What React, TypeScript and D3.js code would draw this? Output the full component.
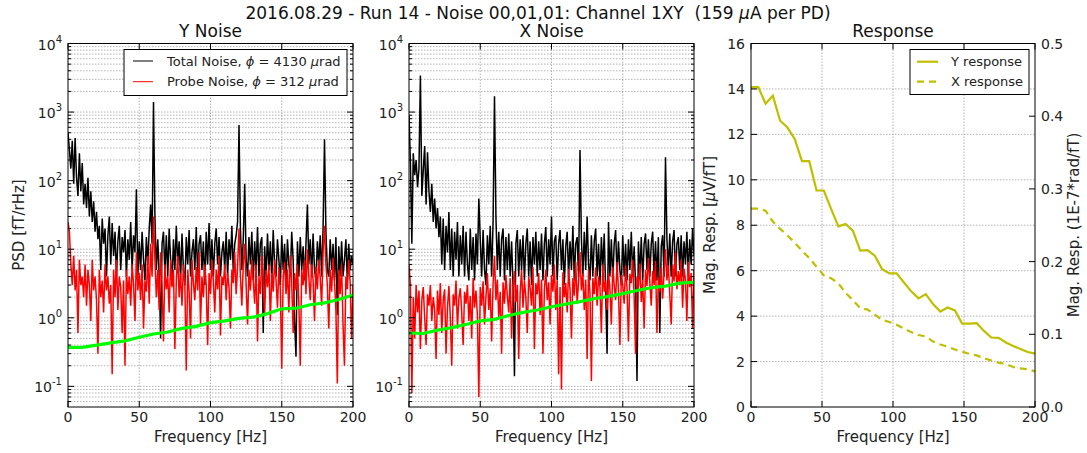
import React from 'react'
import * as d3 from 'd3'

// PSD bins, 1 Hz apart, 0..200 Hz
const yTotal = [
  500, 280, 150, 380, 90, 420, 110, 60, 250, 70,
  180, 45, 90, 40, 110, 30, 70, 25, 50, 18,
  35, 14, 22, 5, 28, 12, 20, 4, 16, 30,
  6, 24, 8, 18, 4, 13, 22, 5, 15, 9,
  19, 4, 14, 7, 25, 5, 16, 9, 75, 4,
  13, 5, 18, 7, 3.5, 15, 6, 20, 45, 12,
  1400, 30, 5, 14, 4, 0.5, 12, 18, 4.5, 16,
  4, 20, 7, 3, 14, 5, 22, 6, 13, 3.5,
  17, 5, 3, 15, 6, 19, 4, 9, 14, 5,
  21, 4, 12, 16, 5, 13, 3, 18, 6, 24,
  5, 14, 4, 12, 20, 6, 15, 4, 9, 13,
  5, 18, 4, 14, 7, 22, 4.5, 12, 16, 25,
  650, 20, 5, 14, 90, 7, 4, 15, 6, 18,
  3.5, 13, 5, 21, 4, 12, 15, 0.6, 11, 4,
  17, 5, 13, 3.5, 19, 6, 4, 14, 7, 3,
  16, 5, 12, 3, 14, 6, 4, 18, 7, 0.9,
  0.27, 13, 4, 15, 5, 11, 3.5, 12, 45, 6,
  14, 4, 17, 5, 3.5, 13, 6, 16, 4, 20,
  400, 18, 5, 4, 14, 5, 12, 3.5, 15, 1.1,
  11, 4, 13, 4, 7, 14, 3.5, 12, 5, 8,
  6,
]

const yProbe = [
  25, 18, 6, 3, 8, 2.5, 5, 0.6, 7, 3,
  4, 2, 6, 1.5, 5, 3, 0.9, 7, 2.5, 4,
  1.8, 0.3, 5, 2, 3.5, 1.2, 6, 2.5, 4, 1.6,
  3, 0.15, 5, 2, 7, 1.3, 4, 2.8, 0.6, 3.5,
  0.2, 5, 2.2, 4, 1.5, 6, 3, 0.9, 9, 2.5,
  4.5, 1.8, 6, 0.7, 3.5, 2.4, 8, 1.6, 12, 4,
  30, 7, 2, 5, 1.3, 9, 3, 0.45, 6, 2.6,
  4, 1.2, 7, 2.8, 5, 0.35, 3.5, 8, 2, 4.5,
  1.5, 6, 3, 0.17, 5, 2.4, 0.5, 7, 3.2, 1.8,
  5.5, 2.5, 9, 0.8, 4, 2, 6, 3, 0.4, 4.5,
  2.2, 7, 3.5, 1.2, 5, 2.6, 8, 0.55, 4, 3,
  6, 1.8, 4.5, 2.8, 0.7, 5, 3.2, 9, 2.2, 5.5,
  20, 4, 1.5, 6, 12, 3, 0.8, 5, 2.5, 7,
  3.5, 1.6, 6, 0.45, 4, 2.2, 8, 3, 1.1, 5,
  2.8, 6, 0.9, 4.5, 2.4, 7, 3.5, 1.4, 5.5, 2.6,
  0.18, 4, 6.5, 2.2, 5, 1.2, 8, 3.2, 0.6, 4.5,
  2.5, 6, 1.6, 0.2, 5, 3, 7, 2.2, 10, 4,
  1.8, 6, 3.5, 0.9, 5.5, 2.6, 7, 3.8, 1.5, 9,
  22, 6, 3, 0.7, 5, 2.4, 7.5, 3.5, 1.3, 0.11,
  5, 2.2, 6, 0.8, 0.2, 4, 2.6, 7, 3.3, 0.5,
  3,
]

const xTotal = [
  900, 180, 12, 250, 120, 200, 80, 150, 3400, 60,
  140, 320, 45, 260, 70, 35, 90, 25, 55, 20,
  40, 15, 30, 6, 28, 5, 22, 9, 35, 5,
  20, 4, 18, 7, 25, 4, 16, 6, 22, 4,
  18, 6, 3.5, 20, 5, 15, 3.5, 17, 6, 55,
  14, 4, 19, 5, 3, 16, 6, 22, 4, 25,
  1700, 30, 5, 18, 4, 14, 20, 3.5, 15, 5,
  17, 4, 13, 3, 0.14, 12, 19, 4, 14, 5,
  16, 3.5, 12, 20, 4, 13, 3, 15, 6, 18,
  4, 13, 5, 17, 3.5, 12, 21, 4, 14, 6,
  30, 4, 13, 16, 3.5, 12, 19, 5, 14, 3,
  11, 18, 4, 13, 5, 22, 3.5, 12, 15, 4,
  280, 14, 4, 18, 5, 30, 6, 3.5, 16, 4,
  13, 20, 4, 12, 3, 15, 5, 17, 2.5, 0.3,
  25, 4, 14, 3.5, 12, 19, 4, 13, 5, 3,
  16, 4, 12, 3.5, 14, 5, 18, 4, 11, 3,
  0.12, 13, 4, 15, 3.5, 12, 17, 5, 14, 4,
  12, 18, 4, 13, 3.5, 15, 0.6, 11, 16, 4,
  220, 14, 5, 17, 4, 13, 19, 4, 12, 15,
  5, 16, 4, 13, 6, 18, 4, 14, 6, 20,
  8,
]

const xProbe = [
  6, 3, 0.08, 2, 0.5, 3, 1.2, 2.5, 0.35, 1.8,
  2.8, 1, 0.4, 2.2, 1.5, 3, 0.9, 2, 1.3, 0.25,
  2.5, 1.1, 3.2, 0.6, 1.8, 2.6, 0.3, 1.4, 2.9, 1,
  0.2, 2.2, 1.5, 3.5, 0.7, 1.9, 2.7, 1.2, 0.4, 2.4,
  1.6, 3, 0.9, 2.1, 0.5, 3.8, 1.4, 2.5, 1.1, 0.07,
  2.8, 1.5, 3.4, 0.8, 2, 4.5, 1.3, 2.7, 0.45, 3.1,
  8, 1.8, 3.6, 1, 2.4, 0.3, 3.3, 1.6, 4.2, 2.1,
  1.2, 3.8, 0.5, 2.6, 4.8, 1.7, 3, 0.25, 2.3, 5,
  1.4, 3.5, 2, 0.6, 4, 2.7, 1.5, 5.5, 0.35, 3.2,
  2.2, 4.5, 1.1, 3.6, 0.3, 2.5, 5, 1.8, 3.3, 0.8,
  4.2, 2.4, 6, 1.3, 3.5, 0.15, 2.8, 0.09, 4.6, 2,
  3.2, 1.2, 5.2, 2.6, 0.5, 3.8, 2.1, 6.5, 1.6, 3.4,
  9, 2.5, 4.4, 1.3, 3.6, 0.25, 5, 2.3, 0.12, 3.8,
  2.2, 5.4, 1.5, 4, 2.8, 0.6, 6, 2.4, 3.5, 1.3,
  4.5, 2.6, 0.8, 5.5, 3, 1.8, 6.5, 2.5, 0.4, 4.2,
  3, 1.6, 5.8, 2.7, 0.45, 4.4, 3.2, 7, 2, 0.3,
  4, 2.8, 6.2, 1.7, 3.6, 0.7, 5, 2.9, 7.5, 3.3,
  1.5, 4.8, 3, 6.8, 0.6, 3.9, 2.4, 5.5, 1.9, 4.6,
  10, 3.5, 5.8, 2.2, 0.8, 6, 3.4, 9, 2.6, 4.8,
  3, 7, 1.4, 5.2, 3.6, 0.9, 6.5, 2.8, 4.5, 0.7,
  5,
]

// noise floor, every 10 Hz
const floorFreq = [0, 10, 20, 30, 40, 50, 60, 70, 80, 90, 100, 110, 120, 130, 140, 150, 160, 170, 180, 190, 200]
const yFloor = [0.37, 0.37, 0.4, 0.43, 0.46, 0.52, 0.58, 0.62, 0.7, 0.75, 0.85, 0.9, 0.98, 1.02, 1.15, 1.35, 1.38, 1.55, 1.65, 1.85, 2.15]
const xFloor = [0.6, 0.59, 0.66, 0.72, 0.8, 0.9, 0.95, 1.08, 1.2, 1.3, 1.45, 1.58, 1.72, 1.9, 2.05, 2.25, 2.5, 2.75, 2.9, 3.2, 3.3]

// response
const respFreq = [
  0, 5.13, 10.26, 15.38, 20.51, 25.64, 30.77, 35.9, 41.03, 46.15,
  51.28, 56.41, 61.54, 66.67, 71.79, 76.92, 82.05, 87.18, 92.31, 97.44,
  102.56, 107.69, 112.82, 117.95, 123.08, 128.21, 133.33, 138.46, 143.59, 148.72,
  153.85, 158.97, 164.1, 169.23, 174.36, 179.49, 184.62, 189.74, 194.87, 200,
]
const respY = [
  14.08, 14.08, 13.35, 13.7, 12.6, 12.3, 11.8, 10.82, 10.82, 9.53,
  9.53, 8.72, 7.95, 8.06, 7.75, 6.88, 6.9, 6.66, 6.07, 5.88,
  5.88, 5.48, 5.09, 4.78, 4.97, 4.53, 4.2, 4.38, 4.25, 3.67,
  3.67, 3.69, 3.35, 3.06, 3.04, 2.84, 2.69, 2.55, 2.42, 2.35,
]
const respX = [
  0.273, 0.273, 0.27, 0.255, 0.245, 0.236, 0.226, 0.215, 0.205, 0.193,
  0.181, 0.177, 0.17, 0.157, 0.147, 0.136, 0.134, 0.127, 0.12, 0.117,
  0.113, 0.108, 0.103, 0.099, 0.097, 0.09, 0.086, 0.083, 0.079, 0.076,
  0.073, 0.071, 0.067, 0.064, 0.061, 0.059, 0.055, 0.053, 0.052, 0.049,
]

const freqTicks = [0, 50, 100, 150, 200]
const decades = [-1, 0, 1, 2, 3, 4]
const respTicksL = [0, 2, 4, 6, 8, 10, 12, 14, 16]
const respTicksR = [0, 0.1, 0.2, 0.3, 0.4, 0.5]

const FONT = 'DejaVu Sans, sans-serif'
const TOP = 43.5
const BOTTOM = 407
const GRID = '#a0a0a0'

const bins = d3.range(0, 201)

const NoisePanel = ({ left, right, name, total, probe, floor, clip, children }: any) => {
  const x = d3.scaleLinear().domain([0, 200]).range([left, right])
  const y = d3.scaleLog().domain([0.05, 1e4]).range([BOTTOM, TOP])
  const psd = d3.line<number>().x((_, i) => x(bins[i])).y(d => y(d))
  const fl = d3.line<number>().x((_, i) => x(floorFreq[i])).y(d => y(d))
  const minors: number[] = []
  for (let e = -2; e < 4; e++) for (let m = 2; m < 10; m++) {
    const v = m * Math.pow(10, e)
    if (v > 0.05 && v < 1e4) minors.push(v)
  }
  return (
    <g>
      <defs>
        <clipPath id={clip}><rect x={left} y={TOP} width={right - left} height={BOTTOM - TOP} /></clipPath>
      </defs>
      {minors.map(v => (
        <line key={'mg' + v} x1={left} x2={right} y1={y(v)} y2={y(v)} stroke={GRID} strokeWidth={0.8} strokeDasharray="1.5,1.5" />
      ))}
      {decades.map(e => (
        <line key={'Mg' + e} x1={left} x2={right} y1={y(Math.pow(10, e))} y2={y(Math.pow(10, e))} stroke={GRID} strokeWidth={0.8} strokeDasharray="1.5,1.5" />
      ))}
      {freqTicks.slice(1, -1).map(t => (
        <line key={'xg' + t} x1={x(t)} x2={x(t)} y1={TOP} y2={BOTTOM} stroke={GRID} strokeWidth={0.8} strokeDasharray="1.5,1.5" />
      ))}
      <g clipPath={`url(#${clip})`}>
        <path d={psd(total) || ''} fill="none" stroke="#000" strokeWidth={1.5} />
        <path d={psd(probe) || ''} fill="none" stroke="#ff0000" strokeWidth={1.5} />
        <path d={fl(floor) || ''} fill="none" stroke="#00ff00" strokeWidth={3.2} />
      </g>
      {minors.map(v => (
        <g key={'mt' + v}>
          <line x1={left} x2={left + 3} y1={y(v)} y2={y(v)} stroke="#000" />
          <line x1={right} x2={right - 3} y1={y(v)} y2={y(v)} stroke="#000" />
        </g>
      ))}
      {decades.map(e => (
        <g key={'t' + e}>
          <line x1={left} x2={left + 6} y1={y(Math.pow(10, e))} y2={y(Math.pow(10, e))} stroke="#000" />
          <line x1={right} x2={right - 6} y1={y(Math.pow(10, e))} y2={y(Math.pow(10, e))} stroke="#000" />
          <text x={left - 6} y={y(Math.pow(10, e)) + 6} textAnchor="end" fontSize={14} fontFamily={FONT} fill="#222">
            10<tspan dy={-7} fontSize={10}>{e < 0 ? '-' + -e : e}</tspan>
          </text>
        </g>
      ))}
      {freqTicks.map(t => (
        <g key={'xt' + t}>
          <line x1={x(t)} x2={x(t)} y1={BOTTOM} y2={BOTTOM - 6} stroke="#000" />
          <line x1={x(t)} x2={x(t)} y1={TOP} y2={TOP + 6} stroke="#000" />
          <text x={x(t)} y={422} textAnchor="middle" fontSize={14} fontFamily={FONT} fill="#222">{t}</text>
        </g>
      ))}
      <rect x={left} y={TOP} width={right - left} height={BOTTOM - TOP} fill="none" stroke="#000" strokeWidth={1} />
      <text x={(left + right) / 2} y={37} textAnchor="middle" fontSize={17} fontFamily={FONT} fill="#111">{name}</text>
      <text x={(left + right) / 2} y={442} textAnchor="middle" fontSize={15} fontFamily={FONT} fill="#222">Frequency [Hz]</text>
      {children}
    </g>
  )
}

const ResponsePanel = () => {
  const left = 751
  const right = 1035
  const x = d3.scaleLinear().domain([0, 200]).range([left, right])
  const yL = d3.scaleLinear().domain([0, 16]).range([BOTTOM, TOP])
  const yR = d3.scaleLinear().domain([0, 0.5]).range([BOTTOM, TOP])
  const lineY = d3.line<number>().x((_, i) => x(respFreq[i])).y(d => yL(d))
  const lineX = d3.line<number>().x((_, i) => x(respFreq[i])).y(d => yR(d))
  const col = '#bfbf00'
  return (
    <g>
      {freqTicks.slice(1, -1).map(t => (
        <line key={'rg' + t} x1={x(t)} x2={x(t)} y1={TOP} y2={BOTTOM} stroke={GRID} strokeWidth={0.8} strokeDasharray="1.5,1.5" />
      ))}
      {respTicksL.slice(1, -1).map(t => (
        <line key={'rgy' + t} x1={left} x2={right} y1={yL(t)} y2={yL(t)} stroke={GRID} strokeWidth={0.8} strokeDasharray="1.5,1.5" />
      ))}
      <path d={lineY(respY) || ''} fill="none" stroke={col} strokeWidth={2.2} />
      <path d={lineX(respX) || ''} fill="none" stroke={col} strokeWidth={2.2} strokeDasharray="7,5" />
      {respTicksL.map(t => (
        <g key={'rl' + t}>
          <line x1={left} x2={left + 6} y1={yL(t)} y2={yL(t)} stroke="#000" />
          <text x={left - 6} y={yL(t) + 5} textAnchor="end" fontSize={14} fontFamily={FONT} fill="#222">{t}</text>
        </g>
      ))}
      {respTicksR.map(t => (
        <g key={'rr' + t}>
          <line x1={right} x2={right - 6} y1={yR(t)} y2={yR(t)} stroke="#000" />
          <text x={right + 6} y={yR(t) + 5} textAnchor="start" fontSize={14} fontFamily={FONT} fill="#222">{t.toFixed(1)}</text>
        </g>
      ))}
      {freqTicks.map(t => (
        <g key={'rx' + t}>
          <line x1={x(t)} x2={x(t)} y1={BOTTOM} y2={BOTTOM - 6} stroke="#000" />
          <line x1={x(t)} x2={x(t)} y1={TOP} y2={TOP + 6} stroke="#000" />
          <text x={x(t)} y={422} textAnchor="middle" fontSize={14} fontFamily={FONT} fill="#222">{t}</text>
        </g>
      ))}
      <rect x={left} y={TOP} width={right - left} height={BOTTOM - TOP} fill="none" stroke="#000" strokeWidth={1} />
      <text x={(left + right) / 2} y={37} textAnchor="middle" fontSize={17} fontFamily={FONT} fill="#111">Response</text>
      <text x={(left + right) / 2} y={442} textAnchor="middle" fontSize={15} fontFamily={FONT} fill="#222">Frequency [Hz]</text>
      <text transform="translate(715,225) rotate(-90)" textAnchor="middle" fontSize={15} fontFamily={FONT} fill="#222">
        Mag. Resp. [<tspan fontStyle="italic">{'\u03bc'}</tspan>V/fT]
      </text>
      <text transform="translate(1079,225) rotate(-90)" textAnchor="middle" fontSize={15} fontFamily={FONT} fill="#222">
        Mag. Resp. (1E-7*rad/fT)
      </text>
      <rect x={910} y={49.5} width={119} height={45} fill="#fff" stroke="#000" />
      <line x1={917} x2={938} y1={61.7} y2={61.7} stroke={col} strokeWidth={2.2} />
      <text x={951} y={66} fontSize={13} fontFamily={FONT} fill="#222">Y response</text>
      <line x1={917} x2={938} y1={81.7} y2={81.7} stroke={col} strokeWidth={2.2} strokeDasharray="7,5" />
      <text x={951} y={86} fontSize={13} fontFamily={FONT} fill="#222">X response</text>
    </g>
  )
}

export default function App() {
  return (
    <svg width={1087} height={453} style={{ position: 'absolute', left: 0, top: 0, background: '#fff' }}>
      <rect width={1087} height={453} fill="#fff" />
      <text x={538} y={19} textAnchor="middle" fontSize={17} fontFamily={FONT} fill="#111" xmlSpace="preserve">
        {'2016.08.29 - Run 14 - Noise 00,01,01: Channel 1XY\u00a0\u00a0(159 '}
        <tspan fontStyle="italic">{'\u03bc'}</tspan>
        {'A per PD)'}
      </text>
      <NoisePanel left={68} right={353} name="Y Noise" total={yTotal} probe={yProbe} floor={yFloor} clip="clipY">
        <text transform="translate(24,225) rotate(-90)" textAnchor="middle" fontSize={15} fontFamily={FONT} fill="#222">PSD [fT/rHz]</text>
        <rect x={124} y={49.5} width={223} height={46} fill="#fff" stroke="#000" />
        <line x1={133} x2={153} y1={61} y2={61} stroke="#000" />
        <text x={167} y={66} fontSize={13} fontFamily={FONT} fill="#222">
          Total Noise, <tspan fontStyle="italic">{'\u03d5'}</tspan> = 4130 <tspan fontStyle="italic">{'\u03bc'}</tspan>rad
        </text>
        <line x1={133} x2={153} y1={81.7} y2={81.7} stroke="#ff0000" />
        <text x={167} y={86} fontSize={13} fontFamily={FONT} fill="#222">
          Probe Noise, <tspan fontStyle="italic">{'\u03d5'}</tspan> = 312 <tspan fontStyle="italic">{'\u03bc'}</tspan>rad
        </text>
      </NoisePanel>
      <NoisePanel left={409} right={694} name="X Noise" total={xTotal} probe={xProbe} floor={xFloor} clip="clipX" />
      <ResponsePanel />
    </svg>
  )
}
